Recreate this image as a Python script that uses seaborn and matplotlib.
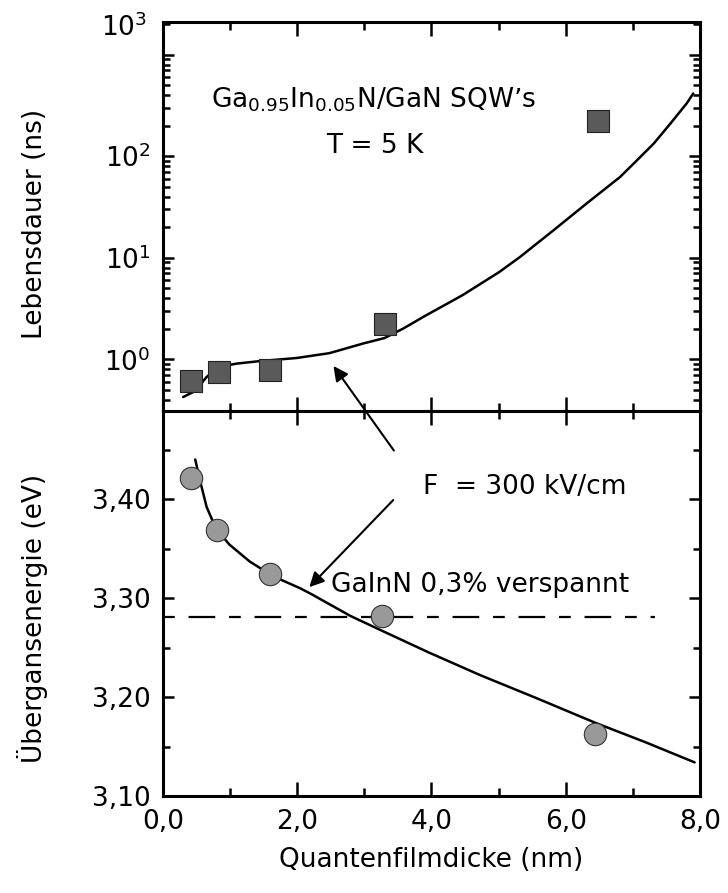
import numpy as np
import pandas as pd
import matplotlib
matplotlib.use("Agg")
import matplotlib.pyplot as plt
import seaborn as sns
from matplotlib.ticker import FixedLocator, NullFormatter, LogLocator
from matplotlib.patches import ConnectionPatch

# ---------------- data ----------------
# top panel: lifetime (ns) vs well width (nm)
tau_x = [0.42, 0.83, 1.60, 3.30, 6.48]
tau_y = [0.61, 0.75, 0.78, 2.25, 221.0]
tau_fit_x = [0.30, 0.45, 0.55, 0.65, 0.77, 0.89, 1.09, 1.44, 1.99, 2.48, 2.98,
             3.30, 3.58, 3.91, 4.46, 5.01, 5.32, 5.82, 6.31, 6.81, 7.06, 7.31,
             7.56, 7.80, 7.90]
tau_fit_y = [0.425, 0.476, 0.555, 0.67, 0.78, 0.853, 0.906, 0.96, 1.03, 1.15,
             1.43, 1.62, 2.01, 2.69, 4.27, 7.24, 10.2, 18.7, 34.2, 62.5, 91.0,
             133.0, 210.0, 330.0, 415.0]

# bottom panel: transition energy (eV) vs well width (nm)
e_x = [0.42, 0.81, 1.60, 3.27, 6.44]
e_y = [3.421, 3.369, 3.324, 3.282, 3.163]
e_fit_x = [0.48, 0.55, 0.65, 0.79, 0.99, 1.29, 1.64, 2.04, 2.21, 2.79, 3.23,
           3.96, 4.73, 5.56, 6.44, 7.20, 7.92]
e_fit_y = [3.440, 3.419, 3.392, 3.370, 3.354, 3.337, 3.322, 3.310, 3.304,
           3.282, 3.268, 3.245, 3.222, 3.199, 3.174, 3.154, 3.134]
strained_x = [0.0, 7.33]
strained_y = [3.281, 3.281]

x_ticks = [0, 2, 4, 6, 8]
x_ticklabels = ["0,0", "2,0", "4,0", "6,0", "8,0"]
e_ticks = [3.10, 3.20, 3.30, 3.40]
e_ticklabels = ["3,10", "3,20", "3,30", "3,40"]
tau_ticks = [1, 10, 100, 1000]
tau_ticklabels = ["$10^0$", "$10^1$", "$10^2$", ""]

# ---------------- style ----------------
sns.set_style("ticks")
plt.rcParams["font.family"] = ["DejaVu Sans"]
plt.rcParams["mathtext.default"] = "regular"
for k in ["text.color", "axes.labelcolor", "xtick.color", "ytick.color",
          "axes.edgecolor"]:
    plt.rcParams[k] = "black"
FS = 19

fig = plt.figure(figsize=(7.28, 8.93), dpi=100)
ax1 = fig.add_axes([0.2239, 0.5398, 0.7376, 0.4356])
ax2 = fig.add_axes([0.2239, 0.1086, 0.7376, 0.4312])

for ax in (ax1, ax2):
    for s in ax.spines.values():
        s.set_linewidth(2.2)
        s.set_visible(True)
        s.set_color("black")
    ax.tick_params(which="both", direction="in", top=True, right=True,
                   width=1.8, labelsize=FS, pad=9, colors="black")
    ax.tick_params(which="major", length=8)
    ax.tick_params(which="minor", length=5)
    ax.set_xlim(0, 8)
    ax.xaxis.set_major_locator(FixedLocator(x_ticks))
    ax.xaxis.set_minor_locator(FixedLocator([1, 3, 5, 7]))
    ax.tick_params(axis="x", which="major", length=10)
    ax.tick_params(axis="x", which="minor", length=6)

# ---------------- top panel ----------------
ax1.set_yscale("log")
ax1.set_ylim(0.31, 2100)
sns.lineplot(x=tau_fit_x, y=tau_fit_y, ax=ax1, color="black", lw=1.8,
             sort=False, estimator=None)
sns.scatterplot(x=tau_x, y=tau_y, ax=ax1, marker="s", s=240,
                color="#5a5a5a", edgecolor="#222222", linewidth=0.8, zorder=3)
ax1.yaxis.set_major_locator(FixedLocator(tau_ticks))
ax1.yaxis.set_minor_locator(LogLocator(base=10, subs=np.arange(2, 10), numticks=20))
ax1.yaxis.set_minor_formatter(NullFormatter())
ax1.set_yticklabels(tau_ticklabels)
ax1.set_xticklabels([])
ax1.text(-0.03, 0.985, "$10^3$", transform=ax1.transAxes, ha="right",
         va="center", fontsize=FS)
ax1.set_ylabel("Lebensdauer (ns)", fontsize=FS)
ax1.yaxis.set_label_coords(-0.215, 0.48)
ax1.set_xlabel("")
ax1.text(3.14, 360, "Ga$_{0.95}$In$_{0.05}$N/GaN SQW\u2019s", ha="center",
         va="center", fontsize=FS)
ax1.text(3.15, 125, "T = 5 K", ha="center", va="center", fontsize=FS)

# ---------------- bottom panel ----------------
ax2.set_ylim(3.10, 3.489)
sns.lineplot(x=strained_x, y=strained_y, ax=ax2, color="black", lw=1.6,
             linestyle=(0, (5.3, 6.2, 12, 6.2)))
sns.lineplot(x=e_fit_x, y=e_fit_y, ax=ax2, color="black", lw=1.8,
             sort=False, estimator=None)
sns.scatterplot(x=e_x, y=e_y, ax=ax2, marker="o", s=260, color="#999999",
                edgecolor="#333333", linewidth=0.8, zorder=3)
ax2.yaxis.set_major_locator(FixedLocator(e_ticks))
ax2.yaxis.set_minor_locator(FixedLocator([3.15, 3.25, 3.35, 3.45]))
ax2.set_yticklabels(e_ticklabels)
ax2.set_xticklabels(x_ticklabels)
ax2.set_xlabel("Quantenfilmdicke (nm)", fontsize=FS, labelpad=9)
ax2.set_ylabel("\u00dcbergansenergie (eV)", fontsize=FS)
ax2.yaxis.set_label_coords(-0.215, 0.46)

ax2.text(5.39, 3.412, "F  = 300 kV/cm", ha="center", va="center", fontsize=FS)
ax2.text(2.51, 3.313, "GaInN 0,3% verspannt", ha="left", va="center",
         fontsize=FS)

# arrows
ax2.annotate("", xy=(2.18, 3.311), xytext=(3.43, 3.399),
             arrowprops=dict(arrowstyle="-|>", mutation_scale=22, lw=1.5,
                             color="black", shrinkA=0, shrinkB=0))
con = ConnectionPatch(xyA=(3.44, 3.449), coordsA=ax2.transData,
                      xyB=(2.54, 0.86), coordsB=ax1.transData,
                      arrowstyle="-|>", mutation_scale=22, lw=1.5,
                      color="black", shrinkA=0, shrinkB=0, zorder=5)
fig.add_artist(con)

fig.savefig("out.png", dpi=100)
